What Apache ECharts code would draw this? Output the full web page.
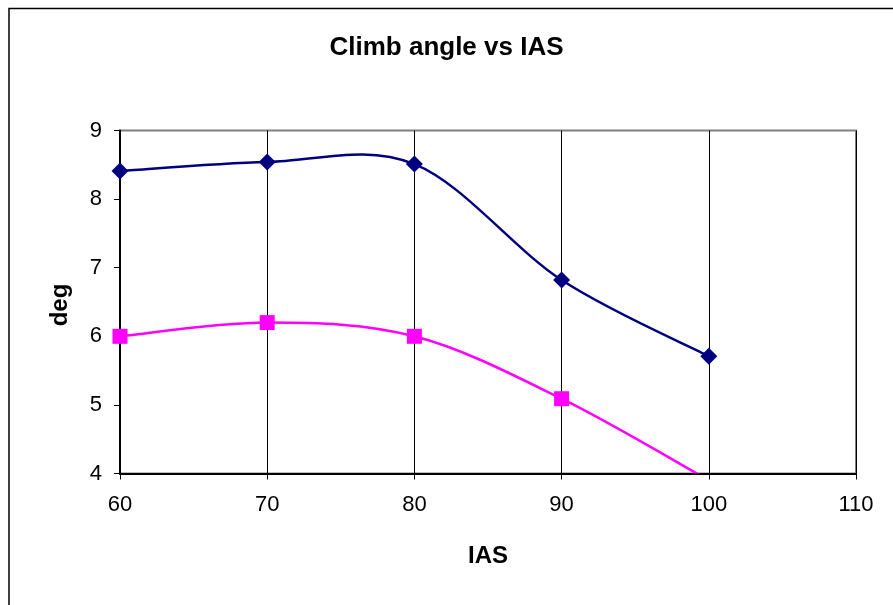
<!DOCTYPE html>
<html>
<head>
<meta charset="utf-8">
<style>
html,body{margin:0;padding:0;background:#fff;}
#chart{width:893px;height:605px;}
</style>
<script src="https://cdn.jsdelivr.net/npm/echarts@6/dist/echarts.min.js"></script>
</head>
<body>
<div id="chart"></div>
<script>
// Data
const titleText = 'Climb angle vs IAS';
const xAxisTitle = 'IAS';
const yAxisTitle = 'deg';
const iasValues = [60, 70, 80, 90, 100];
const navySeries = [8.41, 8.54, 8.51, 6.82, 5.71];
const magentaSeries = [6.0, 6.2, 6.0, 5.09, 3.9];
const xMin = 60, xMax = 110, xStep = 10;
const yMin = 4, yMax = 9, yStep = 1;

const pairs = (xs, ys) => xs.map((x, i) => [x, ys[i]]);

// Spreadsheet-style smoothed line: each segment is a cubic Bezier whose
// control points come from the neighbouring data points (projected by the axes).
function smoothSegments(xs, ys, color, width) {
  return {
    type: 'custom',
    data: pairs(xs, ys),
    clip: true,
    silent: true,
    z: 2,
    renderItem: function (params, api) {
      const i = params.dataIndex;
      if (i === 0) return null;
      const n = xs.length;
      const P = k => api.coord([xs[Math.max(0, Math.min(n - 1, k))], ys[Math.max(0, Math.min(n - 1, k))]]);
      const p0 = P(i - 2), p1 = P(i - 1), p2 = P(i), p3 = P(i + 1);
      return {
        type: 'bezierCurve',
        shape: {
          x1: p1[0], y1: p1[1], x2: p2[0], y2: p2[1],
          cpx1: p1[0] + (p2[0] - p0[0]) / 6, cpy1: p1[1] + (p2[1] - p0[1]) / 6,
          cpx2: p2[0] - (p3[0] - p1[0]) / 6, cpy2: p2[1] - (p3[1] - p1[1]) / 6
        },
        style: {fill: 'none', stroke: color, lineWidth: width, lineJoin: 'round'}
      };
    }
  };
}

const chart = echarts.init(document.getElementById('chart'), null, {renderer: 'canvas'});
const font = '"Liberation Sans", Arial, sans-serif';
chart.setOption({
  animation: false,
  backgroundColor: '#ffffff',
  title: {
    text: titleText,
    left: 'center',
    top: 30,
    textStyle: {fontFamily: font, fontSize: 26, fontWeight: 'bold', color: '#000'}
  },
  grid: {
    left: 120, top: 130.5, width: 736, height: 343,
    show: true, borderColor: '#808080', borderWidth: 2, backgroundColor: 'transparent'
  },
  xAxis: {
    type: 'value', min: xMin, max: xMax, interval: xStep,
    axisLine: {show: true, onZero: false, lineStyle: {color: '#000', width: 2}},
    axisTick: {show: true, inside: false, length: 6, lineStyle: {color: '#000', width: 1}},
    axisLabel: {margin: 20, fontFamily: font, fontSize: 22, color: '#000'},
    splitLine: {show: true, lineStyle: {color: '#000', width: 1}}
  },
  yAxis: {
    type: 'value', min: yMin, max: yMax, interval: yStep,
    axisLine: {show: true, onZero: false, lineStyle: {color: '#000', width: 2}},
    axisTick: {show: true, inside: false, length: 6, lineStyle: {color: '#000', width: 1}},
    axisLabel: {margin: 18, fontFamily: font, fontSize: 22, color: '#000'},
    splitLine: {show: false}
  },
  graphic: [
    {type: 'rect', shape: {x: 9, y: 8.5, width: 1000, height: 1000},
     style: {fill: 'none', stroke: '#000', lineWidth: 1.5}, silent: true},
    {type: 'text', x: 488, y: 556,
     style: {text: xAxisTitle, font: 'bold 24px "Liberation Sans", Arial, sans-serif',
             fill: '#000', textAlign: 'center', textVerticalAlign: 'middle'}},
    {type: 'text', x: 60, y: 305, rotation: Math.PI / 2,
     style: {text: yAxisTitle, font: 'bold 24px "Liberation Sans", Arial, sans-serif',
             fill: '#000', textAlign: 'center', textVerticalAlign: 'middle'}}
  ],
  series: [
    smoothSegments(iasValues, navySeries, '#000080', 2.5),
    smoothSegments(iasValues, magentaSeries, '#FF00FF', 2.5),
    {
      type: 'scatter', data: pairs(iasValues, navySeries), clip: true, z: 3,
      symbol: 'diamond', symbolSize: 17,
      itemStyle: {color: '#000080', opacity: 1}
    },
    {
      type: 'scatter', data: pairs(iasValues, magentaSeries), clip: true, z: 3,
      symbol: 'rect', symbolSize: 15,
      itemStyle: {color: '#FF00FF', opacity: 1}
    }
  ]
});
</script>
</body>
</html>
